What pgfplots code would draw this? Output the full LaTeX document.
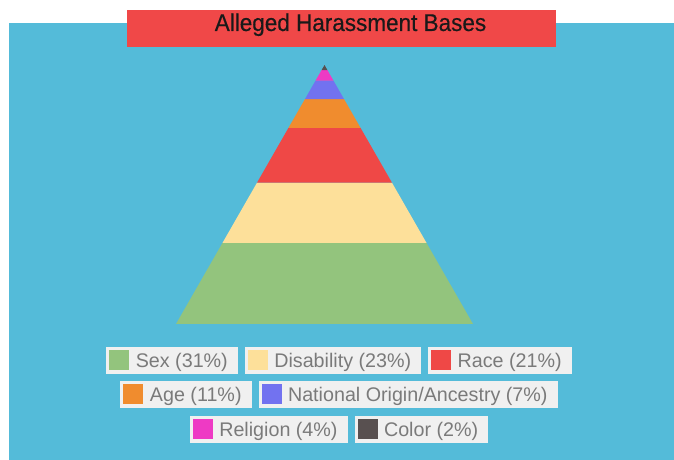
\documentclass[border=0pt]{standalone}
\usepackage{fontspec}
\setmainfont{Liberation Sans}
\newfontfamily\titlefont[FakeBold=0.4]{Liberation Sans}
\usepackage{pgfplots}
\pgfplotsset{compat=1.18}
\definecolor{bgblue}{RGB}{84,187,217}
\definecolor{titlered}{RGB}{240,72,72}
\definecolor{sexc}{RGB}{147,196,125}
\definecolor{disc}{RGB}{253,224,154}
\definecolor{racec}{RGB}{239,72,70}
\definecolor{agec}{RGB}{240,140,46}
\definecolor{natc}{RGB}{114,114,240}
\definecolor{relc}{RGB}{238,58,196}
\definecolor{colc}{RGB}{88,80,80}
\definecolor{legbg}{RGB}{240,240,240}
\definecolor{legtext}{RGB}{122,122,122}
\newcommand{\legitem}[2]{{\setlength{\fboxsep}{0pt}\colorbox{legbg}{\rule[-3.5bp]{0pt}{27bp}\hspace{3bp}\textcolor{#1}{\rule{20bp}{20bp}}\hspace{6.5bp}\raisebox{2.5bp}{\textcolor{legtext}{#2}}\hspace{10bp}}}}
\begin{document}
\begin{tikzpicture}
\fill[white] (0,0) rectangle (674bp,460bp);
\fill[bgblue] (8.5bp,0) rectangle (674bp,437bp);
\fill[titlered] (127bp,413bp) rectangle (556bp,450bp);
\node[inner sep=0pt, anchor=base, text=black!90] at (350.5bp,429bp) {\scalebox{0.93}[1]{\titlefont\fontsize{24.2bp}{28bp}\selectfont Alleged Harassment Bases}};
\begin{axis}[
  hide axis, scale only axis,
  width=300bp, height=259bp,
  xmin=-150, xmax=150, ymin=0, ymax=99,
  at={(174.5bp,136bp)}, anchor=south west,
  clip=false,
]
\addplot[fill=sexc, draw=none] coordinates {(-148.5,0) (148.5,0) (102,31) (-102,31)};
\addplot[fill=disc, draw=none] coordinates {(-102,31) (102,31) (67.5,54) (-67.5,54)};
\addplot[fill=racec, draw=none] coordinates {(-67.5,54) (67.5,54) (36,75) (-36,75)};
\addplot[fill=agec, draw=none] coordinates {(-36,75) (36,75) (19.5,86) (-19.5,86)};
\addplot[fill=natc, draw=none] coordinates {(-19.5,86) (19.5,86) (9,93) (-9,93)};
\addplot[fill=relc, draw=none] coordinates {(-9,93) (9,93) (3,97) (-3,97)};
\addplot[fill=colc, draw=none] coordinates {(-3,97) (3,97) (0,99)};
\end{axis}
\fontsize{19.7bp}{23bp}\selectfont
\node[inner sep=0pt] at (339bp,99.5bp) {\legitem{sexc}{Sex (31\%)}\hspace{7bp}\legitem{disc}{Disability (23\%)}\hspace{7bp}\legitem{racec}{Race (21\%)}};
\node[inner sep=0pt] at (339bp,65.5bp) {\legitem{agec}{Age (11\%)}\hspace{7bp}\legitem{natc}{National Origin/Ancestry (7\%)}};
\node[inner sep=0pt] at (339bp,31bp) {\legitem{relc}{Religion (4\%)}\hspace{7bp}\legitem{colc}{Color (2\%)}};
\end{tikzpicture}
\end{document}
